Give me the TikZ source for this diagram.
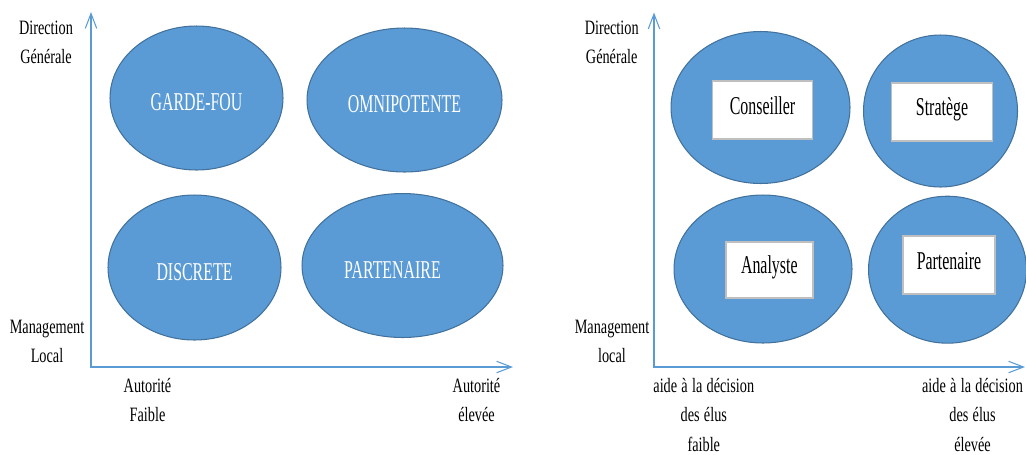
\documentclass[tikz,border=0pt]{standalone}
\usepackage{fontspec}
\setmainfont{Liberation Serif}[FakeStretch=0.7]
\newfontfamily\tagfont{Liberation Serif}[FakeStretch=0.62]
\usepackage{tikz}
\usetikzlibrary{shapes.geometric, arrows.meta}
\definecolor{blobblue}{HTML}{5B9BD5}
\definecolor{blobedge}{HTML}{41719C}
\definecolor{boxedge}{HTML}{BFBFBF}
\newcommand{\lblfont}{\fontsize{11.6pt}{16.6pt}\selectfont\spaceskip=0.21em\relax}
\tikzstyle{blob} = [ellipse, draw=blobedge, line width=0.6pt, fill=blobblue, inner sep=0pt, text=white, text height=0.6cm, text depth=0.1cm, font=\tagfont\fontsize{14.6pt}{16pt}\selectfont]
\tikzstyle{axis} = [draw=blobblue, line width=0.6pt, {Straight Barb[length=8.5pt,width=6.5pt]}-{Straight Barb[length=8.5pt,width=6.5pt]}]

\begin{document}
\begin{tikzpicture}[
    x=0.02cm, y=-0.02cm,
    role/.style={draw=boxedge, line width=1pt, fill=white, minimum height=1.16cm, inner sep=0pt, text height=0.34cm, text depth=0.18cm, font=\tagfont\fontsize{14.6pt}{16pt}\selectfont},
    lbl/.style={anchor=base, text width=3cm, align=flush center, inner sep=0pt, font=\lblfont}
]
\useasboundingbox (0,0) rectangle (1026,454);

% Axes
\coordinate (oL) at (91,367);
\coordinate (yL) at (91,12);
\coordinate (xL) at (513,367);
\coordinate (oR) at (654,367);
\coordinate (yR) at (654,12.5);
\coordinate (xR) at (1025,367);
\draw [axis] (yL) -- (oL) -- (xL);
\draw [axis] (yR) -- (oR) -- (xR);

% Left quadrant
\node (gardefou) [blob, minimum width=3.46cm, minimum height=2.88cm] at (196.5,98) {GARDE-FOU};
\node (omni) [blob, minimum width=3.9cm, minimum height=2.88cm] at (404.5,100) {OMNIPOTENTE};
\node (discrete) [blob, minimum width=3.46cm, minimum height=2.9cm] at (194.5,267.5) {DISCRETE};
\node (partL) [blob, minimum width=4.02cm, minimum height=2.88cm] at (402.5,265.5) {\hspace*{-0.4cm}PARTENAIRE};

% Right quadrant
\node (conseilE) [blob, minimum width=3.58cm, minimum height=3.04cm] at (760.5,107.5) {};
\node (strategeE) [blob, minimum width=3.08cm, minimum height=3.04cm] at (940.5,111) {};
\node (analysteE) [blob, minimum width=3.56cm, minimum height=2.96cm] at (763,269) {};
\node (partRE) [blob, minimum width=3.16cm, minimum height=2.94cm] at (947.5,269.7) {};
\node (conseil) [role, minimum width=2cm] at (762.5,110) {Conseiller};
\node (stratege) [role, minimum width=2.02cm] at (942,111.7) {Stratège};
\node (analyste) [role, minimum width=1.74cm, minimum height=1.12cm] at (769.3,269.7) {Analyste};
\node (partR) [role, minimum width=1.84cm] at (949,265) {Partenaire};

% Labels
\node (dirL) [lbl] at (46,34) {Direction\\Générale};
\node (mgmtL) [lbl] at (47,333) {Management\\Local};
\node (lowL) [lbl] at (147.5,392.7) {Autorité\\Faible};
\node (highL) [lbl] at (476.5,392.7) {Autorité\\élevée};
\node (dirR) [lbl] at (611.7,34) {Direction\\Générale};
\node (mgmtR) [lbl] at (612,333) {Management\\local};
\node (lowR) [lbl] at (703.8,392.7) {aide à la décision\\des élus\\faible};
\node (highR) [lbl] at (972.5,392.7) {aide à la décision\\des élus\\élevée};

\end{tikzpicture}
\end{document}
